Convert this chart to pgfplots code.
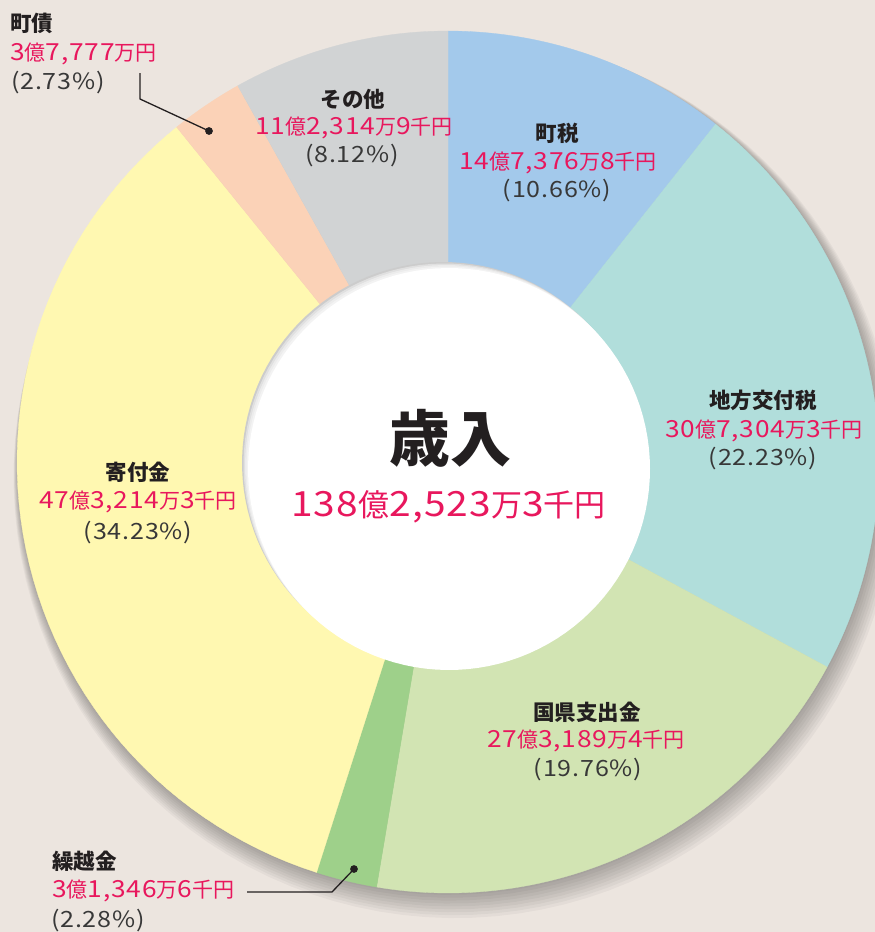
\documentclass[border=0pt]{standalone}
\usepackage{fontspec}
\setmainfont{Noto Sans CJK JP}
\newfontfamily\dg{Noto Sans CJK JP}[Scale=1.12, FakeStretch=1.12, LetterSpace=3.5]
\newcommand\D[1]{{\dg #1}}
\usepackage{pgfplots}
\pgfplotsset{compat=1.18}
\definecolor{bg}{HTML}{ECE5DF}
\definecolor{cA}{HTML}{A3C9EB}
\definecolor{cB}{HTML}{B1DEDB}
\definecolor{cC}{HTML}{D2E4B3}
\definecolor{cD}{HTML}{9ED08A}
\definecolor{cE}{HTML}{FFF8B1}
\definecolor{cF}{HTML}{FBD2B7}
\definecolor{cG}{HTML}{D1D3D4}
\definecolor{pink}{HTML}{E8175D}
\definecolor{ttl}{HTML}{231F20}
\definecolor{pct}{HTML}{383838}
% shares (%) clockwise from 12 o'clock
\def\pA{10.66}\def\pB{22.23}\def\pC{19.76}\def\pD{2.28}\def\pE{34.23}\def\pF{2.73}\def\pG{8.12}
\pgfmathsetmacro\aO{90}
\pgfmathsetmacro\aA{\aO-3.6*\pA}
\pgfmathsetmacro\aB{\aA-3.6*\pB}
\pgfmathsetmacro\aC{\aB-3.6*\pC}
\pgfmathsetmacro\aD{\aC-3.6*\pD}
\pgfmathsetmacro\aE{\aD-3.6*\pE}
\pgfmathsetmacro\aF{\aE-3.6*\pF}
\pgfmathsetmacro\aG{-270}
\newcommand\slice[3]{%
  \addplot[fill=#1, draw=#1, line width=0.3pt, domain=#3:#2, samples=60, variable=\t]
    ({448+431*cos(\t)},{462-431*sin(\t)}) -- (axis cs:448,462) -- cycle;}
\tikzset{ttl/.style={font=\bfseries\fontsize{21.5}{21.5}\selectfont, text=ttl, inner sep=0pt},
  val/.style={font=\fontsize{21}{21}\selectfont, text=pink, inner sep=0pt},
  pc/.style={font=\fontsize{20}{20}\selectfont\dg, text=pct, inner sep=0pt}}
\begin{document}
\begin{tikzpicture}
\begin{axis}[width=875pt, height=932pt, scale only axis, hide axis,
  xmin=0, xmax=875, ymin=0, ymax=932, y dir=reverse, clip=true]
\addplot[fill=bg, draw=none] coordinates {(0,0) (875,0) (875,932) (0,932)} -- cycle;
% outer shadow
\pgfplotsinvokeforeach{1,...,9}{
  \addplot[fill=black, fill opacity=0.035, draw=none, domain=0:360, samples=120, variable=\t]
    ({448+#1*0.8+(430+#1*1.3)*cos(\t)},{462+#1*1.6-(430+#1*1.3)*sin(\t)}) -- cycle;
}
\slice{cA}{\aO}{\aA}
\slice{cB}{\aA}{\aB}
\slice{cC}{\aB}{\aC}
\slice{cD}{\aC}{\aD}
\slice{cE}{\aD}{\aE}
\slice{cF}{\aE}{\aF}
\slice{cG}{\aF}{\aG}
% inner white circle with inset shadow
\addplot[fill=black!20, draw=none, domain=0:360, samples=120, variable=\t]
  ({443+201*cos(\t)},{463-201*sin(\t)}) -- cycle;
\pgfplotsinvokeforeach{1.5,3,4.5}{
  \addplot[fill=white, fill opacity=0.4, draw=none, domain=0:360, samples=120, variable=\t]
    ({443+#1+201*cos(\t)},{463+#1-201*sin(\t)}) -- cycle;
}
\addplot[fill=white, draw=none, domain=0:360, samples=120, variable=\t]
  ({449+201*cos(\t)},{469-201*sin(\t)}) -- cycle;
% leader lines
\addplot[line width=1.3pt, color=ttl, mark=none] coordinates {(140,73) (140,99) (209,131)};
\addplot[only marks, mark=*, mark size=3.6pt, color=ttl] coordinates {(209,131)};
\addplot[line width=1.3pt, color=ttl, mark=none] coordinates {(247,892) (332,892) (354,869)};
\addplot[only marks, mark=*, mark size=3.6pt, color=ttl] coordinates {(354,869)};
% centre
\node[font=\bfseries\fontsize{61}{61}\selectfont, text=ttl, inner sep=0pt] at (axis cs:450,438) {歳入};
\node[font=\fontsize{31}{31}\selectfont, text=pink, inner sep=0pt] at (axis cs:448.5,507) {\D{138}億\D{2,523}万\D{3}千円};
% labels
\node[ttl] at (axis cs:557,133.5) {町税};
\node[val] at (axis cs:558,163) {\D{14}億\D{7,376}万\D{8}千円};
\node[pc]  at (axis cs:557,191) {(10.66\%)};
\node[ttl] at (axis cs:763,400) {地方交付税};
\node[val] at (axis cs:764,431) {\D{30}億\D{7,304}万\D{3}千円};
\node[pc]  at (axis cs:763,459) {(22.23\%)};
\node[ttl] at (axis cs:587,712) {国県支出金};
\node[val] at (axis cs:586,741) {\D{27}億\D{3,189}万\D{4}千円};
\node[pc]  at (axis cs:588,770) {(19.76\%)};
\node[ttl] at (axis cs:138,472) {寄付金};
\node[val] at (axis cs:138,502) {\D{47}億\D{3,214}万\D{3}千円};
\node[pc]  at (axis cs:138,533) {(34.23\%)};
\node[ttl] at (axis cs:353,99) {その他};
\node[val] at (axis cs:354,127.5) {\D{11}億\D{2,314}万\D{9}千円};
\node[pc]  at (axis cs:352,156) {(8.12\%)};
\node[ttl, anchor=west] at (axis cs:10,23) {町債};
\node[val, anchor=west] at (axis cs:10,54) {\D{3}億\D{7,777}万円};
\node[pc, anchor=west]  at (axis cs:11,82.5) {(2.73\%)};
\node[ttl, anchor=west] at (axis cs:52,861) {繰越金};
\node[val, anchor=west] at (axis cs:52,891) {\D{3}億\D{1,346}万\D{6}千円};
\node[pc, anchor=west]  at (axis cs:51,921) {(2.28\%)};
\end{axis}
\end{tikzpicture}
\end{document}
